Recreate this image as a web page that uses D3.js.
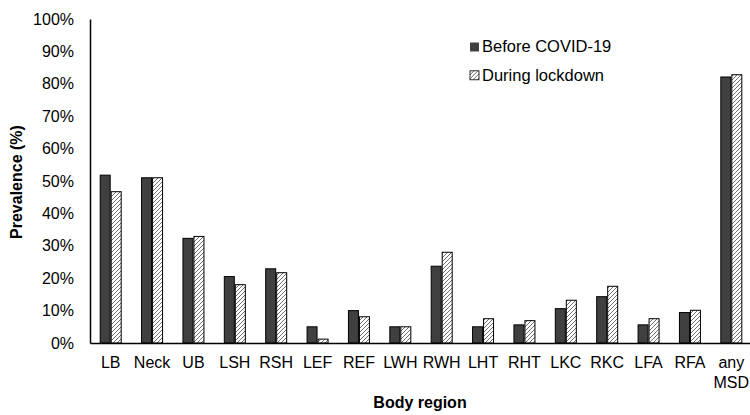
<!DOCTYPE html>
<html>
<head>
<meta charset="utf-8">
<script src="https://cdn.jsdelivr.net/npm/d3@7"></script>
<style>
  body { margin: 0; background: #fff; }
  text { font-family: "Liberation Sans", Arial, sans-serif; }
</style>
</head>
<body>
<script>
var regions = ["LB", "Neck", "UB", "LSH", "RSH", "LEF", "REF", "LWH", "RWH", "LHT", "RHT", "LKC", "RKC", "LFA", "RFA", "any MSD"];
var beforeCovid = [51.8, 51.0, 32.3, 20.5, 22.9, 5.0, 10.0, 5.0, 23.7, 5.0, 5.6, 10.6, 14.3, 5.6, 9.4, 82.1];
var duringLockdown = [46.7, 51.0, 32.9, 18.0, 21.7, 1.2, 8.1, 5.0, 28.0, 7.5, 6.9, 13.2, 17.5, 7.5, 10.1, 82.8];
var seriesNames = ["Before COVID-19", "During lockdown"];
var yTicks = [0, 10, 20, 30, 40, 50, 60, 70, 80, 90, 100];

var width = 750, height = 415;
var margin = {top: 19, right: -2, bottom: 72, left: 90};
var fontSize = 16;

var svg = d3.select("body").append("svg")
	.attr("width", width)
	.attr("height", height);

var defs = svg.append("defs");
var pat = defs.append("pattern")
	.attr("id", "hatch")
	.attr("patternUnits", "userSpaceOnUse")
	.attr("width", 4)
	.attr("height", 4);
pat.append("rect").attr("width", 4).attr("height", 4).attr("fill", "#fff");
pat.append("path")
	.attr("d", "M-1,1 l2,-2 M0,4 l4,-4 M3,5 l2,-2")
	.attr("stroke", "#707070")
	.attr("stroke-width", 1);

var x = d3.scaleBand()
	.domain(regions)
	.range([margin.left, width - margin.right]);

var y = d3.scaleLinear()
	.domain([0, 100])
	.range([height - margin.bottom, margin.top]);

var barW = 10, barGap = 1;
var fills = ["#404040", "url(#hatch)"];

// bars
[beforeCovid, duringLockdown].forEach(function(vals, s) {
	svg.append("g").selectAll("rect")
		.data(vals)
		.enter().append("rect")
		.attr("x", function(d, i) {
			var c = x(regions[i]) + x.bandwidth() / 2;
			return s == 0 ? c - barW - barGap / 2 : c + barGap / 2;
		})
		.attr("y", function(d) { return y(d); })
		.attr("width", barW)
		.attr("height", function(d) { return y(0) - y(d); })
		.attr("fill", fills[s])
		.attr("stroke", "#000")
		.attr("stroke-width", 1);
});

// y axis
var yAxis = svg.append("g")
	.attr("transform", "translate(" + margin.left + ",0)")
	.call(d3.axisLeft(y).tickValues(yTicks).tickSize(0).tickPadding(16)
		.tickFormat(function(d) { return d + "%"; }));
yAxis.select(".domain").attr("stroke", "#000").attr("stroke-width", 1.5);
yAxis.selectAll("text").attr("font-size", fontSize).attr("fill", "#000")
	.style("font-family", "'Liberation Sans', Arial, sans-serif");

// x axis
var xAxis = svg.append("g")
	.attr("transform", "translate(0," + y(0) + ")")
	.call(d3.axisBottom(x).tickSize(0).tickPadding(14));
xAxis.select(".domain").attr("stroke", "#000").attr("stroke-width", 1.5);
xAxis.selectAll("text").attr("font-size", fontSize).attr("fill", "#000")
	.style("font-family", "'Liberation Sans', Arial, sans-serif")
	.each(function(d) {
		var t = d3.select(this);
		var parts = d.split(" ");
		if (parts.length > 1) {
			t.text(null);
			parts.forEach(function(p, k) {
				t.append("tspan").attr("x", 0).attr("dy", k == 0 ? "0.71em" : "1.2em").text(p);
			});
			t.attr("dy", null);
		}
	});

// axis titles
svg.append("text")
	.attr("transform", "translate(22," + (y(50) + 1) + ") rotate(-90)")
	.attr("text-anchor", "middle")
	.attr("font-size", fontSize)
	.attr("font-weight", "bold")
	.text("Prevalence (%)");

svg.append("text")
	.attr("x", 420)
	.attr("y", 408)
	.attr("text-anchor", "middle")
	.attr("font-size", fontSize)
	.attr("font-weight", "bold")
	.text("Body region");

// legend
var legend = svg.append("g").attr("transform", "translate(470,42.5)");
seriesNames.forEach(function(name, s) {
	var g = legend.append("g").attr("transform", "translate(0," + s * 28.3 + ")");
	g.append("rect")
		.attr("width", 9).attr("height", 9)
		.attr("fill", fills[s])
		.attr("stroke", s == 0 ? "none" : "#000")
		.attr("stroke-width", 0.8);
	g.append("text")
		.attr("x", 12)
		.attr("y", 9.8)
		.attr("font-size", 16.5)
		.text(name);
});
</script>
</body>
</html>
